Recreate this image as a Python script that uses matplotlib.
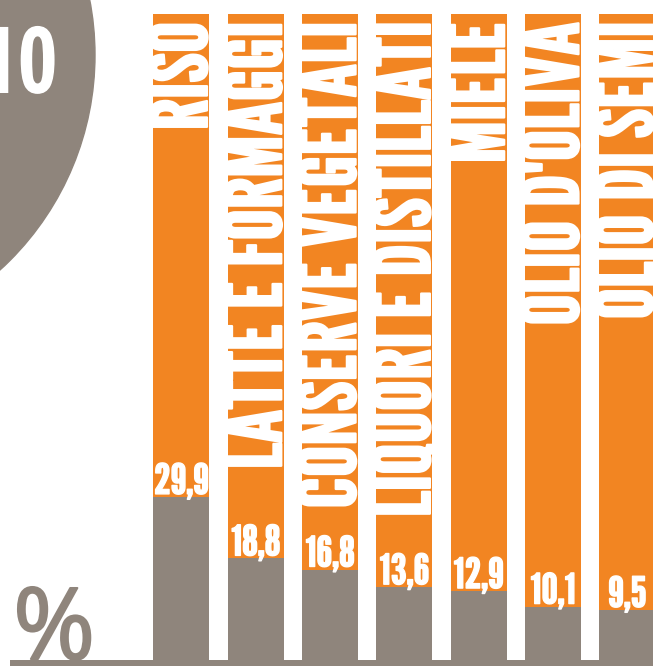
import numpy as np
import matplotlib
matplotlib.use("Agg")
import matplotlib.pyplot as plt
from matplotlib.patches import Circle
from matplotlib.patheffects import AbstractPathEffect
from matplotlib.transforms import Affine2D
from matplotlib.textpath import TextToPath
from matplotlib.font_manager import FontProperties

# ---------------- data ----------------
categories = ["RISO", "LATTE E FORMAGGI", "CONSERVE VEGETALI",
              "LIQUORI E DISTILLATI", "MIELE", "OLIO D'OLIVA", "OLIO DI SEMI"]
values = [29.9, 18.8, 16.8, 13.6, 12.9, 10.1, 9.5]
value_labels = ["29,9", "18,8", "16,8", "13,6", "12,9", "10,1", "9,5"]
badge_text = "10"
unit_text = "%"

# ---------------- style ----------------
ORANGE = "#F28522"
GRAY = "#8F857C"
COND_FONT = ["League Gothic", "Oswald", "DejaVu Sans"]
BADGE_FONT = ["Open Sans Condensed", "Open Sans", "DejaVu Sans"]
ROUND_FONT = ["Open Sans", "DejaVu Sans"]

W, H, DPI = 653, 666, 100
STEP = 74.3     # px between bar centres
X0 = 181.5      # px centre of first bar
PXU = 5.54      # px per percentage point
Y0 = 3.4        # px from bottom to value 0
BAR_W = 56      # px
PX2PT = 72.0 / DPI


class Squeeze(AbstractPathEffect):
    """Condense (and optionally embolden) text along its writing direction.
    The text stays an ordinary Text artist."""

    def __init__(self, sx, anchor="center", lw_px=0.0):
        super().__init__()
        self.sx = sx
        self.anchor = anchor
        self.lw_px = lw_px

    def draw_path(self, renderer, gc, tpath, affine, rgbFace=None):
        ext = tpath.get_extents()
        if self.anchor == "end":
            x0 = ext.x1
        elif self.anchor == "start":
            x0 = ext.x0
        else:
            x0 = 0.5 * (ext.x0 + ext.x1)
        t = Affine2D().translate(-x0, 0).scale(self.sx, 1).translate(x0, 0) + affine
        gc0 = renderer.new_gc()
        gc0.copy_properties(gc)
        if self.lw_px > 0:
            gc0.set_linewidth(self.lw_px * PX2PT)
            gc0.set_foreground(rgbFace)
            gc0.set_joinstyle("round")
        else:
            gc0.set_linewidth(0)
        renderer.draw_path(gc0, tpath, t, rgbFace)
        gc0.restore()


_T2P = TextToPath()


def ink_em(s, family, weight="normal"):
    """Ink width and height of a string, in em units."""
    fp = FontProperties(family=family, weight=weight)
    verts, codes = _T2P.get_text_path(fp, s)
    v = np.asarray(verts)
    return ((v[:, 0].max() - v[:, 0].min()) / _T2P.FONT_SCALE,
            (v[:, 1].max() - v[:, 1].min()) / _T2P.FONT_SCALE)


def size_for(ref_glyph, family, weight, height_px):
    """Font size in pt so that ref_glyph's ink is height_px tall."""
    return height_px / ink_em(ref_glyph, family, weight)[1] * PX2PT


def squeeze_for(s, family, weight, size_pt, width_px):
    return width_px / (ink_em(s, family, weight)[0] * size_pt / PX2PT)


fig = plt.figure(figsize=(W / DPI, H / DPI), dpi=DPI)
fig.patch.set_facecolor("white")
ax = fig.add_axes([0, 0, 1, 1])
ax.set_axis_off()
ax.set_xlim(-X0 / STEP, (W - X0) / STEP)
ax.set_ylim(-Y0 / PXU, (H - Y0) / PXU)
top_val = (H - 14 - Y0) / PXU

# decorative circle with the rank number
circ = Circle((-195.8 / DPI, (H - 55) / DPI), 290.8 / DPI,
              transform=fig.dpi_scale_trans, color=GRAY, zorder=0)
fig.add_artist(circ)
b_pt = size_for("0", BADGE_FONT, "bold", 68)
b_sx = squeeze_for("0", BADGE_FONT, "bold", b_pt, 37)
fig.text(58 / W, (H - 93) / H, badge_text, ha="right", va="baseline",
         color="white", fontsize=b_pt, family=BADGE_FONT, weight="bold",
         path_effects=[Squeeze(b_sx, "end")], zorder=1)

x = np.arange(len(categories))
bw = BAR_W / STEP
bg = ax.bar(x, top_val, width=bw, color=ORANGE, zorder=1, linewidth=0)
fg = ax.bar(x, values, width=bw, color=GRAY, zorder=2, linewidth=0)
ax.axhspan(-Y0 / PXU, (6 - Y0) / PXU, xmin=10 / W, xmax=1, color=GRAY,
           zorder=3, linewidth=0)

# category labels: rotated, condensed, clipped to the orange bar
LAB_LW = 2.2
cap_pt = size_for("H", COND_FONT, "normal", 58)
sx_lab = squeeze_for("LIQUORI E DISTILLATI", COND_FONT, "normal", cap_pt, 495 - LAB_LW)
lab_top = (H - 22 - Y0) / PXU
for i, cat in enumerate(categories):
    t = ax.text(x[i] + bw / 2 - 2.5 / STEP, lab_top, cat, rotation=90,
                rotation_mode="anchor", ha="right", va="baseline",
                color="white", fontsize=cap_pt, family=COND_FONT,
                zorder=4, path_effects=[Squeeze(sx_lab, "end", LAB_LW)])
    t.set_clip_path(bg.patches[i])

# value labels
VAL_LW = 1.4
val_pt = size_for("2", COND_FONT, "normal", 31)
sx_val = squeeze_for("29,9", COND_FONT, "normal", val_pt, 55 - VAL_LW)
for i, (v, lab) in enumerate(zip(values, value_labels)):
    ax.annotate(lab, (x[i], v), xytext=(0, 2.2), textcoords="offset points",
                ha="center", va="baseline", color="white", fontsize=val_pt,
                family=COND_FONT, zorder=5,
                path_effects=[Squeeze(sx_val, "center", VAL_LW)])

PCT_LW = 2.0
p_pt = size_for("%", ROUND_FONT, "normal", 75 - PCT_LW)
fig.text(13 / W, 7 / H, unit_text, ha="left", va="baseline", color=GRAY,
         fontsize=p_pt, family=ROUND_FONT, weight="normal", zorder=6,
         path_effects=[Squeeze(1.0, "center", PCT_LW)])

fig.savefig("out.png", dpi=DPI, facecolor="white")
